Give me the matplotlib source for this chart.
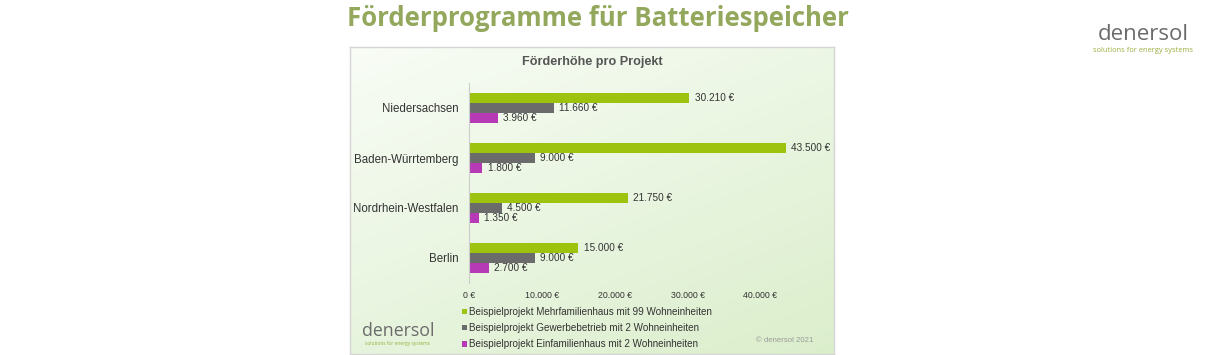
import numpy as np
import matplotlib
matplotlib.use("Agg")
import matplotlib.pyplot as plt

# ---- data ----
categories = ["Niedersachsen", "Baden-Würrtemberg", "Nordrhein-Westfalen", "Berlin"]
series_names = [
    "Beispielprojekt Mehrfamilienhaus mit 99 Wohneinheiten",
    "Beispielprojekt Gewerbebetrieb mit 2 Wohneinheiten",
    "Beispielprojekt Einfamilienhaus mit 2 Wohneinheiten",
]
mehrfamilienhaus = [30210, 43500, 21750, 15000]
gewerbebetrieb = [11660, 9000, 4500, 9000]
einfamilienhaus = [3960, 1800, 1350, 2700]
x_ticks = [0, 10000, 20000, 30000, 40000]

colors = ["#9dc30e", "#6b6b6b", "#b63ab6"]
FONT = "Liberation Sans"

W, H = 1230, 355
fig = plt.figure(figsize=(W / 100, H / 100), dpi=100)

def fx(px):
    return px / W

def fy(py):
    return 1 - py / H

# page title
fig.text(fx(598), fy(18), "Förderprogramme für Batteriespeicher", ha="center", va="center",
         fontsize=18.5, fontweight="bold", family="Open Sans", color="#93a85c")

# top-right logo
fig.text(fx(1143), fy(35), "denersol", ha="center", va="center", fontsize=16,
         family="Open Sans", color="#6b6b6b")
fig.text(fx(1143), fy(51), "solutions for energy systems", ha="center", va="center",
         fontsize=5.4, family="Open Sans", color="#9ab040")

# panel background with gradient
bg = fig.add_axes([fx(350), fy(354), fx(834) - fx(350), fy(47) - fy(354)])
gx = np.linspace(0, 1, 200)
gy = np.linspace(0, 1, 200)
GX, GY = np.meshgrid(gx, gy)
t = np.clip(0.6 * GY + 0.4 * GX, 0, 1)
c0 = np.array([0.975, 0.99, 0.965])
c1 = np.array([0.86, 0.935, 0.80])
img = c0[None, None, :] * (1 - t[..., None]) + c1[None, None, :] * t[..., None]
bg.imshow(img, aspect="auto", extent=[0, 1, 0, 1], origin="upper")
bg.set_xlim(0, 1)
bg.set_ylim(0, 1)
bg.set_xticks([])
bg.set_yticks([])
for s in bg.spines.values():
    s.set_color("#d5d5d5")
    s.set_linewidth(1)

# chart title
fig.text(fx(592), fy(62), "Förderhöhe pro Projekt", ha="center", va="center",
         fontsize=9.1, fontweight="bold", family=FONT, color="#555555")

# bottom-left logo in panel
fig.text(fx(398), fy(331), "denersol", ha="center", va="center", fontsize=12.8,
         family="Open Sans", color="#6b6b6b")
fig.text(fx(398), fy(344), "solutions for energy systems", ha="center", va="center",
         fontsize=3.5, family="Open Sans", color="#9ab040")

fig.text(fx(785), fy(341), "© denersol 2021", ha="center", va="center",
         fontsize=5.6, family=FONT, color="#9a9a9a")

# main axes
xmax = 50000
ax = fig.add_axes([fx(469), fy(283), fx(469 + xmax * (786 - 469) / 43500) - fx(469), fy(83) - fy(283)])
ax.patch.set_alpha(0)
ax.set_xlim(0, xmax)
ax.set_ylim(-0.5, 3.5)

ypos = np.arange(len(categories))[::-1].astype(float)
offsets = [0.2, 0.0, -0.2]
bh = 0.19
all_series = [mehrfamilienhaus, gewerbebetrieb, einfamilienhaus]

handles = []
for vals, off, col, name in zip(all_series, offsets, colors, series_names):
    bars = ax.barh(ypos + off, vals, height=bh, color=col, label=name, edgecolor="none")
    handles.append(bars)
    for yy, v in zip(ypos + off, vals):
        ax.text(v + 750, yy, f"{v:,}".replace(",", ".") + " €", ha="left", va="center",
                fontsize=7.2, family=FONT, color="#333333")

ax.set_yticks(ypos)
ax.set_yticklabels(categories, fontsize=8.3, family=FONT, color="#333333")
ax.set_xticks(x_ticks)
ax.set_xticklabels([f"{v:,}".replace(",", ".") + " €" for v in x_ticks],
                   fontsize=6.3, family=FONT, color="#333333")
ax.tick_params(axis="both", length=0)
ax.tick_params(axis="y", pad=7.5)
ax.tick_params(axis="x", pad=6)
for side in ["top", "right", "bottom"]:
    ax.spines[side].set_visible(False)
ax.spines["left"].set_color("#cccccc")
ax.spines["left"].set_linewidth(0.8)

leg = ax.legend(handles=handles, loc="upper left", bbox_to_anchor=(fx(462), fy(307)),
                bbox_transform=fig.transFigure, frameon=False,
                prop={"family": FONT, "size": 7.1}, handlelength=0.5, handleheight=0.5,
                handletextpad=0.25, labelspacing=0.62, borderpad=0, borderaxespad=0)
for txt in leg.get_texts():
    txt.set_color("#333333")

fig.savefig("out.png", dpi=100, facecolor="white")
